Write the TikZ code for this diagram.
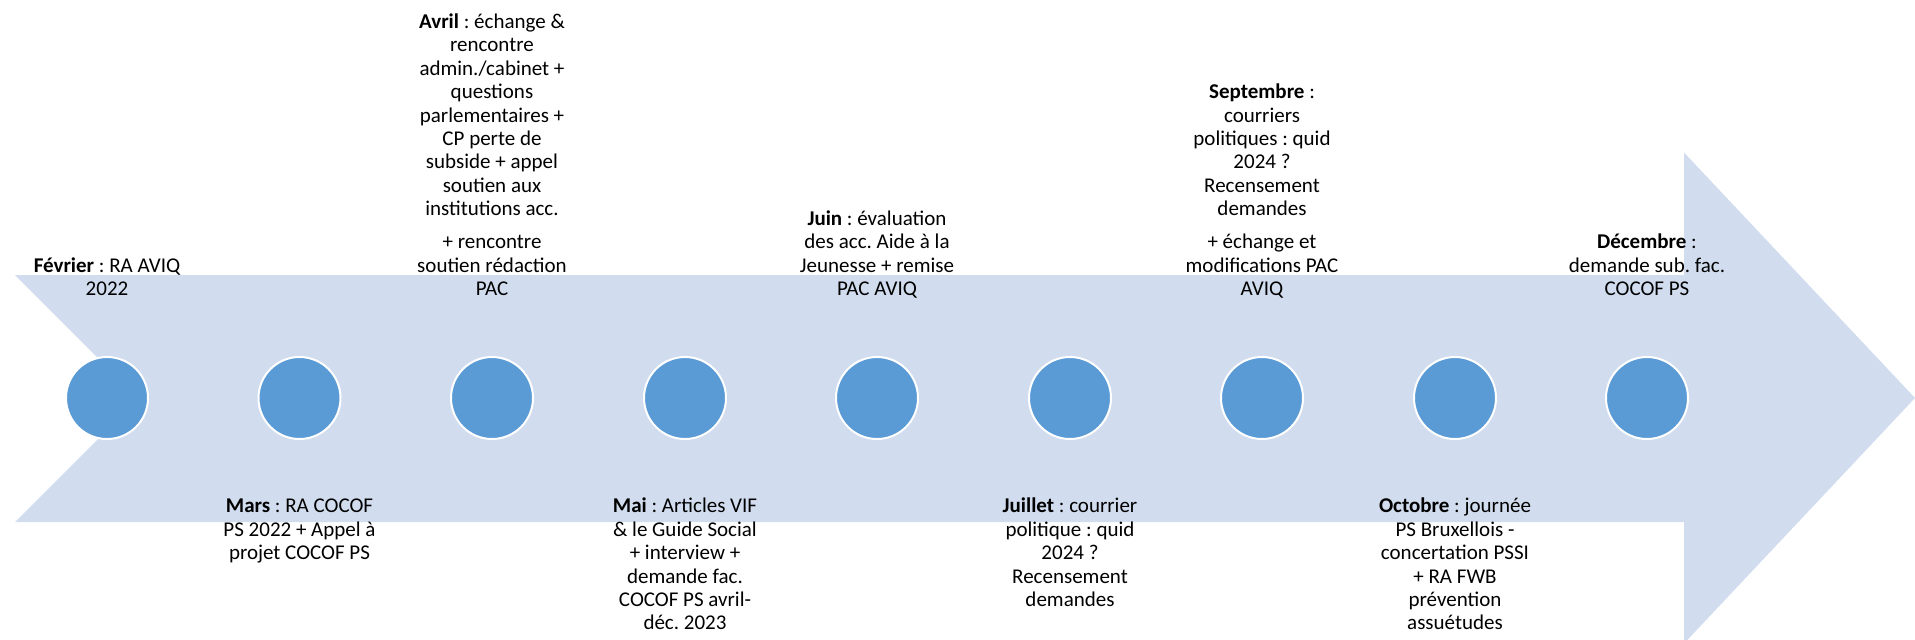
\documentclass[tikz,border=0pt]{standalone}
\usepackage{fontspec}
\setmainfont{Carlito}
\definecolor{arrowfill}{HTML}{D1DDEE}
\definecolor{dotfill}{HTML}{5B9BD5}
\begin{document}
\frenchspacing
\begin{tikzpicture}[x=1pt,y=-1pt,
  dot/.style={circle,fill=dotfill,draw=white,line width=2pt,minimum size=82pt,inner sep=0pt},
  lbl/.style={align=center,inner sep=0pt,font=\fontsize{21}{23.4}\selectfont\frenchspacing},
  abovelbl/.style={lbl,anchor=south},
  belowlbl/.style={lbl,anchor=north}]
\useasboundingbox (0,0) rectangle (1915,640);
% big arrow
\fill[arrowfill] (15,275) -- (1684,275) -- (1684,152.5) -- (1915,398) -- (1684,643.5)
  -- (1684,522) -- (15,522) -- (138.5,398.5) -- cycle;
% dots
\foreach \i/\x in {1/107,2/299.5,3/492,4/685,5/877,6/1070,7/1262,8/1455,9/1647}
  \node[dot] (c\i) at (\x,398) {};
% labels above
\node[abovelbl] (feb) at (107,302.8) {\textbf{Février} : RA AVIQ\\2022\strut};
\node[abovelbl] (avr) at (492,302.8) {\textbf{Avril} : échange \&\\rencontre\\admin./cabinet +\\questions\\parlementaires +\\CP perte de\\subside + appel\\soutien aux\\institutions acc.\\[9.7pt]+ rencontre\\soutien rédaction\\PAC\strut};
\node[abovelbl] (jun) at (877,302.8) {\textbf{Juin} : évaluation\\des acc. Aide à la\\Jeunesse + remise\\PAC AVIQ\strut};
\node[abovelbl] (sep) at (1262,302.8) {\textbf{Septembre} :\\courriers\\politiques : quid\\2024 ?\\Recensement\\demandes\\[9.7pt]+ échange et\\modifications PAC\\AVIQ\strut};
\node[abovelbl] (dec) at (1647,302.8) {\textbf{Décembre} :\\demande sub. fac.\\COCOF PS\strut};
% labels below
\node[belowlbl] (mar) at (299.5,496.4) {\strut\textbf{Mars} : RA COCOF\\PS 2022 + Appel à\\projet COCOF PS};
\node[belowlbl] (mai) at (685,496.4) {\strut\textbf{Mai} : Articles VIF\\\& le Guide Social\\+ interview +\\demande fac.\\COCOF PS avril-\\déc. 2023};
\node[belowlbl] (jul) at (1070,496.4) {\strut\textbf{Juillet} : courrier\\politique : quid\\2024 ?\\Recensement\\demandes};
\node[belowlbl] (oct) at (1455,496.4) {\strut\textbf{Octobre} : journée\\PS Bruxellois -\\concertation PSSI\\+ RA FWB\\prévention\\assuétudes};
\end{tikzpicture}
\end{document}
